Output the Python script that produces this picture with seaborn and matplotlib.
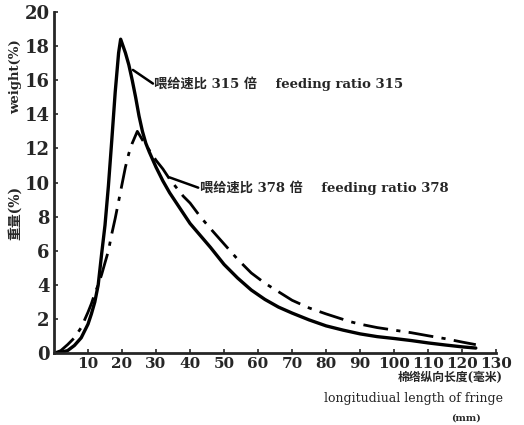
import numpy as np
import pandas as pd
import seaborn as sns
import matplotlib.pyplot as plt

sns.set_style("ticks")
plt.rcParams['font.family'] = ['DejaVu Serif', 'Noto Sans CJK SC']

# 喂给速比 315 倍 (实线)
len_315 = [0, 2, 4, 6, 8, 9, 10, 11, 12, 13, 14, 15, 16, 17, 18, 19, 19.6,
           21, 22, 23, 24, 25, 26, 27, 28, 30, 32, 34, 36, 38, 40, 43, 46, 50, 54,
           58, 62, 66, 70, 75, 80, 85, 90, 95, 100, 105, 110, 115, 120, 124]
wt_315 = [0, 0.05, 0.15, 0.45, 0.9, 1.3, 1.7, 2.3, 3.0, 4.0, 5.8, 7.5, 9.8, 12.5, 15.3,
          17.6, 18.4, 17.6, 16.9, 16.0, 15.0, 13.9, 13.0, 12.3, 11.8, 10.9,
          10.1, 9.4, 8.8, 8.2, 7.6, 6.9, 6.2, 5.2, 4.4, 3.7, 3.15, 2.7, 2.35, 1.95,
          1.6, 1.35, 1.13, 0.97, 0.86, 0.74, 0.6, 0.48, 0.37, 0.3]

# 喂给速比 378 倍 (点划线)
len_378 = [0, 2, 4, 6, 8, 9, 10, 11, 12, 13, 14, 15, 16, 17, 18, 19, 20, 21, 22, 23,
           24.5, 26, 27, 28, 30, 32, 34, 36, 38, 40, 43, 46, 50, 54, 58, 62,
           66, 70, 75, 80, 87, 90, 95, 100, 105, 110, 115, 120, 124]
wt_378 = [0, 0.15, 0.5, 0.9, 1.5, 1.95, 2.4, 2.9, 3.5, 4.0, 4.6, 5.3, 6.0, 7.0, 7.9,
          8.9, 9.9, 10.9, 11.7, 12.3, 13.0, 12.5, 12.2, 11.9, 11.3, 10.8,
          10.2, 9.7, 9.2, 8.8, 8.0, 7.3, 6.4, 5.5, 4.7, 4.1, 3.6, 3.1, 2.65, 2.3,
          1.85, 1.7, 1.5, 1.35, 1.2, 1.02, 0.85, 0.65, 0.5]

xticks = list(range(10, 131, 10))
yticks = list(range(0, 21, 2))

df1 = pd.DataFrame({'len': len_315, 'wt': wt_315})
df2 = pd.DataFrame({'len': len_378, 'wt': wt_378})

fig = plt.figure(figsize=(5.24, 4.25), dpi=100)
ax = fig.add_axes([0.103, 0.169, 0.844, 0.803])

sns.lineplot(data=df1, x='len', y='wt', ax=ax, color='black', lw=2.4, sort=False)
sns.lineplot(data=df2, x='len', y='wt', ax=ax, color='black', lw=2.0, sort=False,
             linestyle=(0, (9, 3, 1.5, 3)))

ax.set_xlim(0, 130)
ax.set_ylim(0, 20)
ax.set_xticks(xticks)
ax.set_yticks(yticks)
ax.tick_params(axis='x', direction='in', length=3, width=1.2, labelsize=11, pad=3)
ax.tick_params(axis='y', direction='in', length=3, width=1.2, labelsize=13, pad=3)
for lab in ax.get_xticklabels() + ax.get_yticklabels():
    lab.set_fontweight('bold')
sns.despine(ax=ax)
ax.spines['left'].set_linewidth(2)
ax.spines['bottom'].set_linewidth(2)
ax.set_xlabel('')
ax.set_ylabel('')

# 标注
ax.plot([23.2, 29.1], [16.6, 15.8], color='black', lw=1.8)
ax.text(29.5, 15.8, '喂给速比 315 倍    feeding ratio 315', fontsize=9.5,
        fontweight='bold', va='center', ha='left')
ax.plot([34, 42.4], [10.3, 9.7], color='black', lw=1.8)
ax.text(42.8, 9.7, '喂给速比 378 倍    feeding ratio 378', fontsize=9.5,
        fontweight='bold', va='center', ha='left')

# 坐标轴标题
fig.text(0.029, 0.82, 'weight(%)', rotation=90, fontsize=9.5, fontweight='bold',
         ha='center', va='center')
fig.text(0.029, 0.50, '重量(%)', rotation=90, fontsize=10, fontweight='bold',
         ha='center', va='center')
fig.text(0.86, 0.112, '棉绺纵向长度(毫米)', fontsize=8.5, fontweight='bold',
         ha='center', va='center')
fig.text(0.79, 0.063, 'longitudiual length of fringe', fontsize=9,
         ha='center', va='center')
fig.text(0.89, 0.016, '(mm)', fontsize=7, fontweight='bold', ha='center', va='center')

fig.savefig('out.png', dpi=100)
